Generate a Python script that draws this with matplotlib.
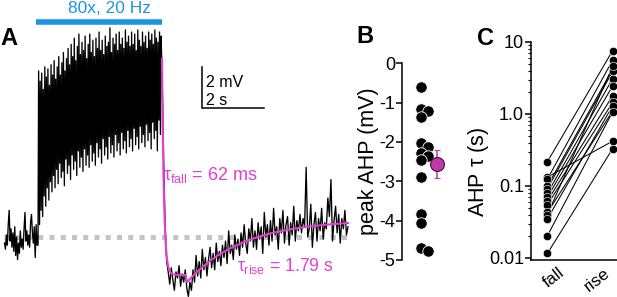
import numpy as np
import matplotlib
matplotlib.use("Agg")
import matplotlib.pyplot as plt
import matplotlib.transforms as mtransforms
from matplotlib.ticker import FixedLocator, FixedFormatter, LogLocator, NullFormatter

plt.rcParams['font.family'] = ['Liberation Sans', 'DejaVu Sans']
plt.rcParams['mathtext.fontset'] = 'custom'
plt.rcParams['mathtext.rm'] = 'Liberation Sans'
plt.rcParams['mathtext.it'] = 'Liberation Sans'
plt.rcParams['mathtext.bf'] = 'Liberation Sans:bold'

# ---------------- data ----------------
# Panel A: membrane potential (mV) relative to baseline
stim_rate_hz = 20
n_pulses = 80
pre_dt = 0.03
pre_trace = [-0.3, -0.6, 0.1, -0.4, 0.6, 1.3, -0.2, 0.4, -0.5, 0.2, -0.7, 0.5,
             -0.9, 0.0, -1.1, -0.3, -0.8, 0.3, -0.5, -0.1, -0.6, 0.4, 1.2, -0.2,
             0.3, -0.4, 0.1, -0.5, 0.7, 1.1, 0.2, -0.3, 0.5, -1.0, 0.6, -0.4]
train_peaks = [8.1, 7.6, 8.0, 7.2, 8.3, 7.8, 8.2, 7.4, 8.4, 7.9,
               8.6, 7.7, 8.3, 8.8, 7.9, 8.5, 9.0, 8.1, 8.7, 9.2,
               8.4, 9.4, 8.8, 9.7, 8.6, 9.3, 9.9, 8.9, 9.5, 9.1,
               9.8, 8.7, 9.4, 9.9, 9.0, 9.6, 8.8, 9.7, 9.2, 10.0,
               9.1, 9.6, 8.9, 9.8, 9.3, 9.5, 10.2, 9.0, 9.7, 9.4,
               9.9, 9.1, 10.0, 9.4, 9.7, 9.2, 10.1, 9.5, 9.8, 9.3,
               10.0, 9.4, 9.9, 9.1, 10.1, 9.6, 9.3, 10.0, 9.5, 9.8,
               9.2, 10.0, 9.6, 9.9, 9.4, 10.1, 9.7, 9.5, 10.0, 9.8]
train_troughs = [-0.4, 0.6, 1.3, 1.0, 2.0, 1.5, 2.4, 1.8, 2.7, 2.2,
                 3.0, 2.4, 3.3, 2.6, 3.6, 2.9, 3.2, 2.5, 3.8, 3.1,
                 3.5, 2.8, 4.0, 3.3, 3.7, 3.0, 4.2, 3.4, 3.9, 3.2,
                 4.3, 3.5, 4.0, 3.4, 4.5, 3.7, 4.1, 3.5, 4.6, 3.9,
                 4.3, 3.6, 4.8, 4.0, 4.4, 3.8, 4.9, 4.1, 4.5, 3.9,
                 5.0, 4.2, 4.6, 4.0, 5.1, 4.3, 4.7, 4.1, 5.2, 4.4,
                 4.8, 4.2, 5.3, 4.5, 4.9, 4.3, 5.4, 4.6, 5.0, 4.4,
                 5.5, 4.7, 5.1, 4.3, 5.6, 4.8, 5.2, 4.2, 5.7, 5.0]
post_dt = 0.05
post_trace = [8.2, 4.0, 0.6, -1.2, -1.7, -2.3, -1.5, -2.1, -2.6, -1.7,
              -2.0, -1.4, -2.4, -1.8, -2.2, -1.6, -2.5, -2.9, -2.2, -2.6,
              -1.6, -2.2, -0.9, -1.9, -1.2, -2.0, -0.6, -1.6, -1.0, -1.9,
              -1.1, -0.5, -1.5, -0.8, -1.6, -0.3, -1.2, -0.7, -1.4, -0.4,
              -1.0, -0.2, -1.3, 0.3, -0.8, -0.4, -1.1, 0.1, -0.6, -0.1,
              -0.9, 0.2, -0.5, 0.6, -0.3, -0.8, 0.4, -0.2, 0.9, -0.5,
              0.3, -0.6, 0.7, -0.1, 0.5, -0.8, 1.2, 0.0, 0.6, -0.4,
              0.8, -0.2, 1.4, 0.1, 0.5, -0.6, 0.9, 0.2, 1.3, -0.3,
              0.6, 1.0, -0.4, 0.7, 0.1, 1.5, -0.2, 0.8, 0.3, 1.1,
              0.2, 0.9, 0.5, 3.4, 0.0, 0.4, 1.6, -0.5, 0.6, 1.2,
              -0.2, 0.9, 0.3, 1.4, -0.1, 0.7, 0.4, 1.9, 1.0, 2.8,
              -0.2, 0.8, 1.5, 0.2, 1.1, -0.3, 0.9, 0.4, 1.3, 0.1, 0.5]
# exponential fits
tau_fall = 0.062          # s
tau_rise = 1.79           # s
fall_t0, fall_t1 = 4.0, 4.75
fall_v0, fall_vend = 8.7, -1.85
rise_t0, rise_t1 = 4.81, 10.0
rise_v0, rise_vinf = -2.2, 0.85

# Panel B: peak AHP (mV)
peak_ahp = [-0.59, -1.17, -1.20, -1.36, -2.03, -2.13, -2.27, -2.35, -2.45,
            -2.88, -3.82, -4.05, -4.70, -4.78]

# Panel C: AHP time constants (s)
tau_fall_cells = [0.218, 0.133, 0.125, 0.100, 0.092, 0.079, 0.070, 0.062,
                  0.055, 0.043, 0.040, 0.035, 0.0204, 0.0116]
tau_rise_cells = [7.6, 0.42, 5.6, 4.2, 3.9, 3.1, 2.45, 1.8, 1.45, 1.1, 4.6,
                  1.3, 1.07, 0.33]
c_categories = ['fall', 'rise']
c_ticks = [0.01, 0.1, 1.0, 10]
c_ticklabels = ['0.01', '0.1', '1.0', '10']

# ---------------- style ----------------
W, H = 617, 297
MAG = '#e33fcf'
BLUE = '#1d94e4'
GREY = '#c4c4c4'
fig = plt.figure(figsize=(W / 100, H / 100), dpi=100)

def fx(px):
    return px / W

def fy(py):
    return 1 - py / H

# ---------------- Panel A ----------------
px_per_s, px_per_mV = 31.0, 20.5
x_t0, y_v0 = 38.0, 237.0
axA = fig.add_axes([0, 0, 360 / W, 1])
axA.set_xlim((0 - x_t0) / px_per_s, (360 - x_t0) / px_per_s)
axA.set_ylim((y_v0 - H) / px_per_mV, y_v0 / px_per_mV)
axA.axis('off')

t_pre = -pre_dt * np.arange(len(pre_trace), 0, -1)
period = 1.0 / stim_rate_hz
k = np.arange(n_pulses)
t_tr = np.empty(2 * n_pulses)
v_tr = np.empty(2 * n_pulses)
t_tr[0::2] = k * period
t_tr[1::2] = k * period + 0.4 * period
v_tr[0::2] = train_troughs
v_tr[1::2] = train_peaks
train_end = n_pulses * period
t_post = train_end + post_dt * np.arange(len(post_trace))
t_all = np.concatenate([t_pre, t_tr, t_post])
v_all = np.concatenate([pre_trace, v_tr, post_trace])

axA.plot([t_all[0] - 0.02, t_all[-1] + 0.02], [0, 0], color=GREY, lw=3.6,
         linestyle=(0, (1.0, 1.25)), solid_capstyle='butt', dash_capstyle='butt', zorder=1)
axA.plot(t_all, v_all, color='black', lw=0.95, zorder=2)

tf = np.linspace(fall_t0, fall_t1, 200)
vf = fall_vend + (fall_v0 - fall_vend) * np.exp(-(tf - fall_t0) / tau_fall)
tr = np.linspace(rise_t0, rise_t1, 300)
vr = rise_vinf - (rise_vinf - rise_v0) * np.exp(-(tr - rise_t0) / tau_rise)
axA.plot(np.concatenate([tf, tr]), np.concatenate([vf, vr]), color=MAG, lw=1.5, zorder=3)

# stimulus bar
bar_v = (y_v0 - 22) / px_per_mV
axA.plot([-0.06, train_end], [bar_v, bar_v], color=BLUE, lw=4.0, solid_capstyle='butt')
fig.text(fx(110), fy(13), '80x, 20 Hz', color=BLUE, fontsize=12.5, ha='center', va='baseline')

# scale bar
sb_t = (201.7 - x_t0) / px_per_s
sb_v = (y_v0 - 108.3) / px_per_mV
axA.plot([sb_t, sb_t, sb_t + 2], [sb_v + 2, sb_v, sb_v], color='black', lw=1.1,
         solid_joinstyle='miter')
fig.text(fx(206.5), fy(87.5), '2 mV', fontsize=11.5, ha='left', va='baseline')
fig.text(fx(206.5), fy(105), '2 s', fontsize=11.5, ha='left', va='baseline')

fig.text(fx(163), fy(180), r'$\tau_{fall}$ = 62 ms', color=MAG, fontsize=13,
         ha='left', va='baseline')
fig.text(fx(237), fy(271), r'$\tau_{rise}$ = 1.79 s', color=MAG, fontsize=12.7,
         ha='left', va='baseline')
fig.text(fx(0), fy(45), 'A', fontsize=17, fontweight='bold', ha='left', va='baseline')

# ---------------- Panel B ----------------
b_top, b_bot = 63.3, 260.0
axB = fig.add_axes([fx(402), fy(b_bot), 50 / W, (b_bot - b_top) / H])
axB.set_ylim(-5, 0)
axB.set_xlim(0, 50)
scale_b = (b_bot - b_top) / 5.0
center = 19.0
placed = []
for v in peak_ahp:
    yp = v * scale_b
    for dx in [0, 7, -7, 12, -12]:
        if all(np.hypot(dx - px, yp - py) >= 7.0 for px, py in placed):
            break
    placed.append((dx, yp))
xs = [center + p[0] for p in placed]
axB.scatter(xs, peak_ahp, s=(8.2) ** 2, color='black', edgecolor='white',
            linewidth=0.6, zorder=3, clip_on=False)
mean_b = np.mean(peak_ahp)
sem_b = np.std(peak_ahp, ddof=1) / np.sqrt(len(peak_ahp))
axB.errorbar([center + 16], [mean_b], yerr=[sem_b], fmt='o', color='#b8329e',
             ms=10, mfc='#c03aa6', mec='#4a0c40', mew=0.8, ecolor='#c03aa6',
             elinewidth=1.1, capsize=2.5, capthick=1.1, zorder=4, clip_on=False)
for s in ['top', 'right', 'bottom']:
    axB.spines[s].set_visible(False)
axB.spines['left'].set_linewidth(1.1)
axB.set_xticks([])
axB.set_yticks([0, -1, -2, -3, -4, -5])
axB.set_yticklabels(['0', '-1', '-2', '-3', '-4', '-5'])
axB.tick_params(axis='y', length=4, width=1.1, labelsize=13, pad=1)
axB.set_ylabel('peak AHP (mV)', fontsize=15.5, labelpad=0)
fig.text(fx(356), fy(43), 'B', fontsize=17, fontweight='bold', ha='left', va='baseline')

# ---------------- Panel C ----------------
c_top, c_bot = 42.0, 260.0
c_w = 90.0
axC = fig.add_axes([fx(531), fy(c_bot), c_w / W, (c_bot - c_top) / H])
axC.set_yscale('log')
axC.set_ylim(0.00938, 10)
axC.set_xlim(-0.252, 1.128)
for f_, r_ in zip(tau_fall_cells, tau_rise_cells):
    axC.plot([0, 1], [f_, r_], color='black', lw=0.75, zorder=2)
axC.scatter([0] * len(tau_fall_cells), tau_fall_cells, s=6.0 ** 2, color='black',
            edgecolor='white', linewidth=0.4, zorder=3, clip_on=False)
axC.scatter([1] * len(tau_rise_cells), tau_rise_cells, s=6.0 ** 2, color='black',
            edgecolor='white', linewidth=0.4, zorder=3, clip_on=False)
for s in ['top', 'right']:
    axC.spines[s].set_visible(False)
axC.spines['left'].set_linewidth(1.1)
axC.spines['bottom'].set_linewidth(1.1)
axC.yaxis.set_major_locator(FixedLocator(c_ticks))
axC.yaxis.set_major_formatter(FixedFormatter(c_ticklabels))
axC.yaxis.set_minor_locator(LogLocator(base=10, subs=np.arange(2, 10)))
axC.yaxis.set_minor_formatter(NullFormatter())
axC.tick_params(axis='y', which='major', length=4, width=1.1, labelsize=13, pad=1)
axC.tick_params(axis='y', which='minor', length=2, width=0.8)
axC.set_xticks([])
blend = mtransforms.blended_transform_factory(axC.transData, axC.transAxes)
shifts = [11, -9]
for i, (cat, dx) in enumerate(zip(c_categories, shifts)):
    tr_ = blend + mtransforms.ScaledTranslation(dx / 100, -5 / 100, fig.dpi_scale_trans)
    axC.text(i, 0, cat, transform=tr_, rotation=38, rotation_mode='anchor',
             ha='right', va='top', fontsize=12.5, clip_on=False)
axC.set_ylabel(r'AHP $\tau$ (s)', fontsize=15.5)
axC.yaxis.set_label_coords((491 - 531) / c_w, (c_bot - 172) / (c_bot - c_top))
fig.text(fx(477), fy(45), 'C', fontsize=17, fontweight='bold', ha='left', va='baseline')

fig.savefig('out.png', dpi=100)
